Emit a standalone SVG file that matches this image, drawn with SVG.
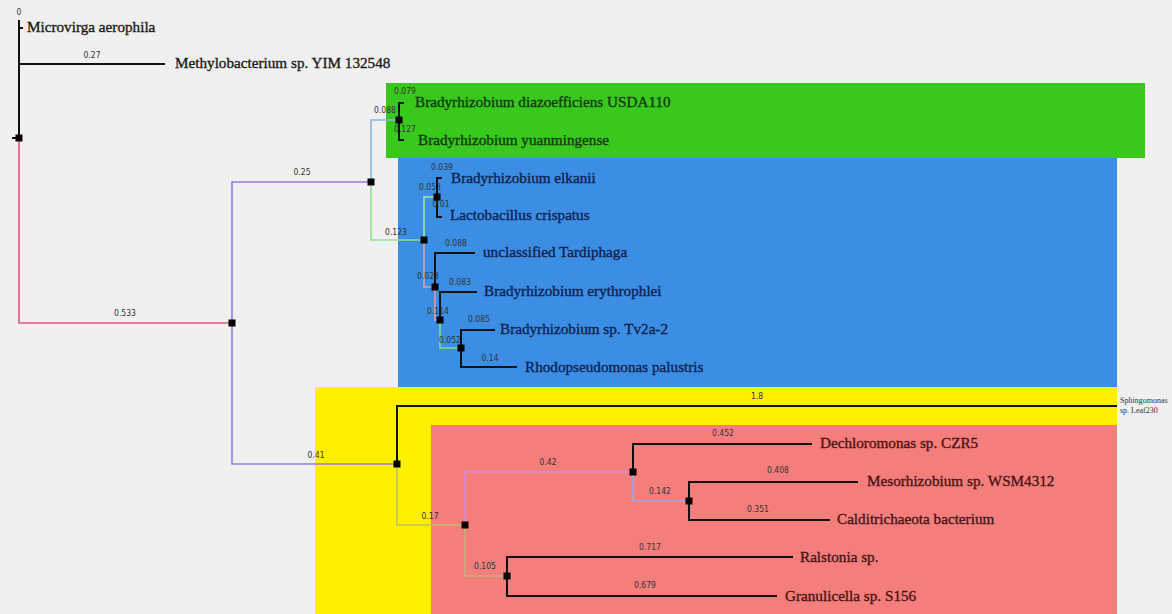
<svg xmlns="http://www.w3.org/2000/svg" width="1172" height="614" viewBox="0 0 1172 614">
<style>
.lbl{font-family:"Liberation Serif","DejaVu Serif",serif;font-size:15.2px;fill:#1a1a1a;stroke:#1a1a1a;stroke-width:0.35}
.blue .lbl{fill:#0f2150;stroke:#0f2150}
.red .lbl{fill:#4a1414;stroke:#4a1414}
.grn .lbl{fill:#123a0a;stroke:#123a0a}
.num{font-family:"DejaVu Sans Condensed","Liberation Sans Narrow","Liberation Sans",sans-serif;font-size:8.5px;fill:#333;text-anchor:middle}
.blk{stroke:#111;stroke-width:2;fill:none}
.c{fill:none;stroke-width:1.6}
.nd{fill:#000}
</style>
<rect width="1172" height="614" fill="#f0f0f0"/>
<g id="clades">
<rect x="386" y="83" width="759" height="75" fill="#39c81d"/>
<rect x="398" y="158" width="719" height="229" fill="#3b8ee4"/>
<rect x="315" y="387" width="802" height="227" fill="#fff000"/>
<rect x="431" y="425" width="686" height="189" fill="#f47e7c"/>
</g>
<g id="connectors">
<path class="c" stroke="#e0577d" d="M19,138 V323 H232"/>
<path class="c" stroke="#9a7ce0" d="M232,323 V182 H371"/>
<path class="c" stroke="#9a7ce0" d="M232,323 V464 H397"/>
<path class="c" stroke="#86b8e6" d="M371,182 V120 H399"/>
<path class="c" stroke="#8ee08e" d="M371,182 V240 H424"/>
<path class="c" stroke="#9ee89e" d="M424,240 V197 H437"/>
<path class="c" stroke="#d8a0a0" d="M424,240 V287 H435"/>
<path class="c" stroke="#d8a0a0" d="M435,287 V320 H440"/>
<path class="c" stroke="#7fe07f" d="M440,320 V348 H461"/>
<path class="c" stroke="#c8bd6a" d="M397,464 V525 H465"/>
<path class="c" stroke="#d88ad8" d="M465,525 V472 H633"/>
<path class="c" stroke="#c8b078" d="M465,525 V576 H507"/>
<path class="c" stroke="#a0a4e4" d="M633,472 V501 H689"/>
<path class="blk" d="M19,20 V138 M12,138 H19 M19,28 H23"/>
<path class="blk" d="M19,64 H165"/>
<path class="blk" d="M404,103 H399 V140 H404"/>
<path class="blk" d="M442,178 H437 V217 H442"/>
<path class="blk" d="M475,253 H435 V287"/>
<path class="blk" d="M477,292 H440 V320"/>
<path class="blk" d="M495,330 H461 V367 H517"/>
<path class="blk" d="M1117,406 H397 V464"/>
<path class="blk" d="M812,444 H633 V472"/>
<path class="blk" d="M858,482 H689 V520 H830"/>
<path class="blk" d="M793,557 H507 V596 H777"/>
</g>
<g id="branch-labels">
<text class="num" x="19" y="15">0</text>
<text class="num" x="92" y="58">0.27</text>
<text class="num" x="125" y="316">0.533</text>
<text class="num" x="302" y="175">0.25</text>
<text class="num" x="316" y="458">0.41</text>
<text class="num" x="385" y="113">0.088</text>
<text class="num" x="405" y="94">0.079</text>
<text class="num" x="405" y="132">0.127</text>
<text class="num" x="396" y="235">0.123</text>
<text class="num" x="430" y="190">0.053</text>
<text class="num" x="442" y="170">0.039</text>
<text class="num" x="441" y="207">0.01</text>
<text class="num" x="456" y="246">0.088</text>
<text class="num" x="428" y="279">0.023</text>
<text class="num" x="460" y="285">0.083</text>
<text class="num" x="438" y="314">0.114</text>
<text class="num" x="479" y="322">0.085</text>
<text class="num" x="450" y="343">0.052</text>
<text class="num" x="490" y="361">0.14</text>
<text class="num" x="757" y="399">1.8</text>
<text class="num" x="430" y="519">0.17</text>
<text class="num" x="548" y="465">0.42</text>
<text class="num" x="485" y="569">0.105</text>
<text class="num" x="723" y="436">0.452</text>
<text class="num" x="660" y="494">0.142</text>
<text class="num" x="778" y="473">0.408</text>
<text class="num" x="758" y="512">0.351</text>
<text class="num" x="650" y="550">0.717</text>
<text class="num" x="645" y="588">0.679</text>
</g>
<g id="internal-nodes">
<rect id="n-root" class="nd" x="15.5" y="134.5" width="7" height="7"/>
<rect id="n1" class="nd" x="228.5" y="319.5" width="7" height="7"/>
<rect id="n2" class="nd" x="367.5" y="178.5" width="7" height="7"/>
<rect id="n3" class="nd" x="395.5" y="116.5" width="7" height="7"/>
<rect id="n4" class="nd" x="420.5" y="236.5" width="7" height="7"/>
<rect id="n5" class="nd" x="433.5" y="193.5" width="7" height="7"/>
<rect id="n6" class="nd" x="431.5" y="283.5" width="7" height="7"/>
<rect id="n7" class="nd" x="436.5" y="316.5" width="7" height="7"/>
<rect id="n8" class="nd" x="457.5" y="344.5" width="7" height="7"/>
<rect id="n9" class="nd" x="393.5" y="460.5" width="7" height="7"/>
<rect id="n10" class="nd" x="461.5" y="521.5" width="7" height="7"/>
<rect id="n11" class="nd" x="629.5" y="468.5" width="7" height="7"/>
<rect id="n12" class="nd" x="685.5" y="497.5" width="7" height="7"/>
<rect id="n13" class="nd" x="503.5" y="572.5" width="7" height="7"/>
</g>
<g id="leaf-microvirga"><text class="lbl" x="27" y="32">Microvirga aerophila</text></g>
<g id="leaf-methylobacterium"><text class="lbl" x="175" y="68">Methylobacterium sp. YIM 132548</text></g>
<g class="grn">
<g id="leaf-diazoefficiens"><text class="lbl" x="415" y="107">Bradyrhizobium diazoefficiens USDA110</text></g>
<g id="leaf-yuanmingense"><text class="lbl" x="418" y="145">Bradyrhizobium yuanmingense</text></g>
</g>
<g class="blue">
<g id="leaf-elkanii"><text class="lbl" x="451" y="183">Bradyrhizobium elkanii</text></g>
<g id="leaf-crispatus"><text class="lbl" x="450" y="220">Lactobacillus crispatus</text></g>
<g id="leaf-tardiphaga"><text class="lbl" x="483" y="257">unclassified Tardiphaga</text></g>
<g id="leaf-erythrophlei"><text class="lbl" x="484" y="296">Bradyrhizobium erythrophlei</text></g>
<g id="leaf-tv2a"><text class="lbl" x="500" y="334">Bradyrhizobium sp. Tv2a-2</text></g>
<g id="leaf-palustris"><text class="lbl" x="525" y="372">Rhodopseudomonas palustris</text></g>
</g>
<g id="leaf-sphingomonas"><text font-family="Liberation Serif,DejaVu Serif,serif" font-size="8" fill="#333" x="1120" y="403">Sphingomonas<tspan x="1120" y="413">sp. Leaf230</tspan></text></g>
<g class="red">
<g id="leaf-dechloromonas"><text class="lbl" x="820" y="448">Dechloromonas sp. CZR5</text></g>
<g id="leaf-mesorhizobium"><text class="lbl" x="867" y="486">Mesorhizobium sp. WSM4312</text></g>
<g id="leaf-calditrichaeota"><text class="lbl" x="837" y="524">Calditrichaeota bacterium</text></g>
<g id="leaf-ralstonia"><text class="lbl" x="800" y="562">Ralstonia sp.</text></g>
<g id="leaf-granulicella"><text class="lbl" x="785" y="601">Granulicella sp. S156</text></g>
</g>
</svg>
